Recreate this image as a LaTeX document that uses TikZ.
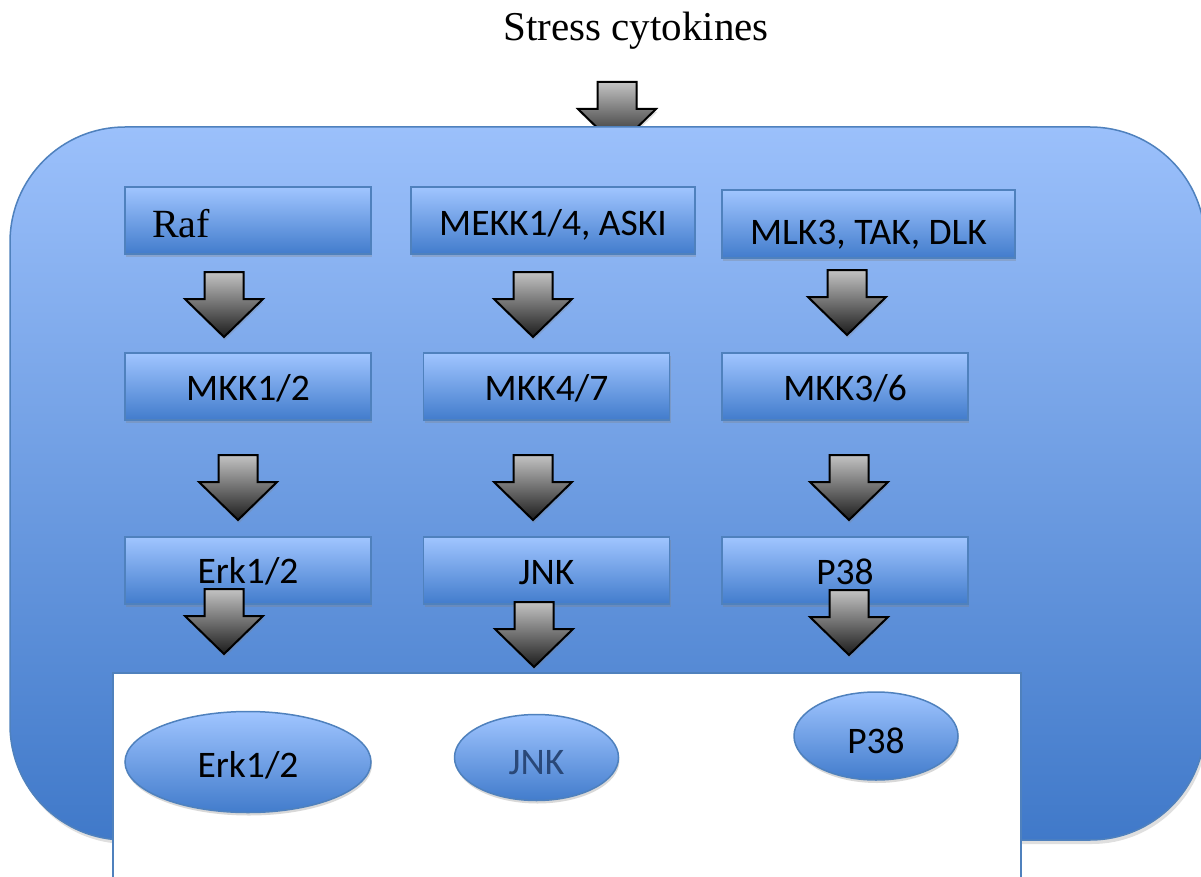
\documentclass[tikz,border=0pt]{standalone}
\usepackage{fontspec}
\setmainfont{Liberation Serif}
\setsansfont{Carlito}
\usetikzlibrary{shapes.geometric,shadows}
\definecolor{edgeblue}{RGB}{79,129,189}
\definecolor{boxtop}{RGB}{160,197,255}
\definecolor{boxmid}{RGB}{138,178,240}
\definecolor{boxbot}{RGB}{66,124,204}
\definecolor{bigtop}{RGB}{155,192,251}
\definecolor{bigbot}{RGB}{64,121,201}
\definecolor{arrtop}{RGB}{195,195,195}
\definecolor{arrbot}{RGB}{28,28,28}
\definecolor{jnktext}{RGB}{42,72,120}
\tikzset{
  shd/.style={drop shadow={opacity=0.3,shadow xshift=1pt,shadow yshift=-3pt}},
  kinase/.style={rectangle,draw=edgeblue,line width=1.5pt,top color=boxtop,middle color=boxmid,bottom color=boxbot,
    minimum width=246pt,minimum height=67pt,inner sep=0pt,font=\sffamily\fontsize{37.5}{41}\selectfont,
    text height=28pt,text depth=0pt,shd},
  product/.style={ellipse,draw=edgeblue,line width=1.5pt,top color=boxtop,bottom color=boxbot,
    inner sep=0pt,font=\sffamily\fontsize{37.5}{41}\selectfont,text height=32pt,text depth=0pt,shd},
  arrowstyle/.style={draw=black,line width=2pt,line join=miter,top color=arrtop,bottom color=arrbot,
    drop shadow={opacity=0.25,shadow xshift=1pt,shadow yshift=-3pt}},
  dnarrow/.pic={\path[arrowstyle] (-19.5,0) -- (19.5,0) -- (19.5,27) -- (39,27) -- (0,65) -- (-39,27) -- (-19.5,27) -- cycle;}
}
\begin{document}
\begin{tikzpicture}[x=1pt,y=-1pt]
\useasboundingbox (0,0) rectangle (1201,877);
\clip (0,0) rectangle (1201,877);
% title
\node[anchor=base,font=\rmfamily\fontsize{41}{45}\selectfont,inner sep=0pt] (title) at (636,41) {Stress cytokines};
% top input arrow (behind cell)
\pic (ain) at (617,82) {dnarrow};
% cell
\path[draw=edgeblue,line width=1.5pt,rounded corners=115pt,top color=bigtop,bottom color=bigbot,
  drop shadow={opacity=0.25,shadow xshift=2pt,shadow yshift=-4pt}] (10,127) rectangle (1205,840);
% nucleus / output area
\path[draw=edgeblue,line width=1.5pt,fill=white] (113,673) rectangle (1021,900);
% row 1
\node[kinase,text width=192pt,align=left,inner xsep=27pt,font=\rmfamily\fontsize{40}{43}\selectfont,text height=35pt] (raf) at (248,220.5) {Raf};
\node[kinase,minimum width=284pt,text height=31pt] (mekk) at (553,220.5) {MEKK1/4, ASKI};
\node[kinase,minimum width=293pt,minimum height=68pt,text height=42pt] (mlk) at (868.5,224) {MLK3, TAK, DLK};
% row 2
\node[kinase] (mkk12) at (248,386.5) {MKK1/2};
\node[kinase] (mkk47) at (546.5,386.5) {MKK4/7};
\node[kinase] (mkk36) at (845,386.5) {MKK3/6};
% row 3
\node[kinase,text height=25pt] (erk) at (248,570.5) {Erk1/2};
\node[kinase] (jnk) at (546.5,570.5) {JNK};
\node[kinase] (p38) at (845,570.5) {P38};
% arrows
\pic (a1) at (224,272) {dnarrow};
\pic (a2) at (533,272) {dnarrow};
\pic (a3) at (847,270) {dnarrow};
\pic (b1) at (238,455) {dnarrow};
\pic (b2) at (533,455) {dnarrow};
\pic (b3) at (849,455) {dnarrow};
\pic (c1) at (224,589) {dnarrow};
\pic (c2) at (534,602) {dnarrow};
\pic (c3) at (849,590) {dnarrow};
% products
\node[product,minimum width=246pt,minimum height=101pt,text height=30pt] (erkp) at (248,762) {Erk1/2};
\node[product,minimum width=164pt,minimum height=86pt,text height=34pt,text=jnktext] (jnkp) at (536.5,757.5) {JNK};
\node[product,minimum width=164pt,minimum height=88pt,text height=34pt] (p38p) at (876,736) {P38};
\end{tikzpicture}
\end{document}
